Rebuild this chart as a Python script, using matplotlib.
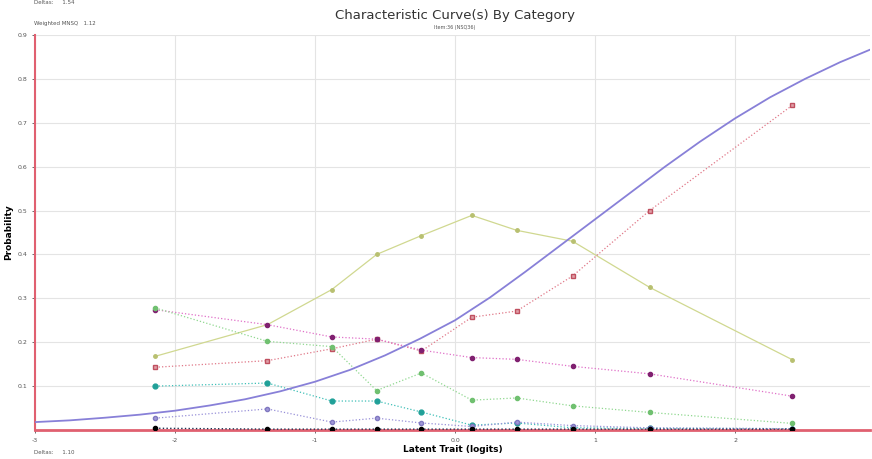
import numpy as np
import matplotlib.pyplot as plt

# observed category proportions at each measure group
x_obs = [-2.14, -1.34, -0.88, -0.56, -0.24, 0.12, 0.44, 0.84, 1.39, 2.41]
cat_yellow = [0.168, 0.24, 0.32, 0.40, 0.443, 0.489, 0.455, 0.43, 0.325, 0.16]
cat_pink = [0.143, 0.158, 0.185, 0.207, 0.18, 0.257, 0.271, 0.351, 0.50, 0.74]
cat_magenta = [0.274, 0.24, 0.212, 0.207, 0.182, 0.165, 0.161, 0.145, 0.128, 0.077]
cat_green = [0.278, 0.202, 0.19, 0.09, 0.13, 0.068, 0.073, 0.055, 0.04, 0.015]
cat_teal = [0.10, 0.107, 0.066, 0.066, 0.041, 0.011, 0.016, 0.005, 0.004, 0.003]
cat_lav = [0.027, 0.048, 0.018, 0.027, 0.016, 0.008, 0.018, 0.01, 0.005, 0.003]
cat_black = [0.004, 0.002, 0.002, 0.002, 0.002, 0.002, 0.002, 0.002, 0.002, 0.002]

# model curve
x_model = [-3, -2.75, -2.5, -2.25, -2, -1.75, -1.5, -1.25, -1, -0.75, -0.5, -0.25,
           0, 0.25, 0.5, 0.75, 1, 1.25, 1.5, 1.75, 2, 2.25, 2.5, 2.75, 2.96]
p_model = [0.018, 0.022, 0.028, 0.035, 0.044, 0.056, 0.07, 0.088, 0.11, 0.137, 0.17, 0.208,
           0.25, 0.302, 0.36, 0.42, 0.48, 0.54, 0.60, 0.657, 0.71, 0.758, 0.80, 0.838, 0.866]

x_ticks = [-3, -2, -1, 0, 1, 2]
x_ticklabels = ['-3', '-2', '-1', '0.0', '1', '2']
y_ticks = [0.1, 0.2, 0.3, 0.4, 0.5, 0.6, 0.7, 0.8, 0.9]

fig = plt.figure(figsize=(8.72, 4.59), dpi=100)
ax = fig.add_axes([35/872, 29/459, 835/872, 395/459])

ax.plot(x_model, p_model, color='#8880d8', lw=1.3, zorder=5)

ax.plot(x_obs, cat_yellow, color='#d0d890', lw=0.9, marker='o', ms=2.5, mfc='#b8c070', mec='#b8c070')
ax.plot(x_obs, cat_pink, color='#e07888', lw=0.9, ls=':', marker='s', ms=3.5, mfc='#e0a0a8', mec='#c05060')
ax.plot(x_obs, cat_magenta, color='#e070c8', lw=0.9, ls=':', marker='o', ms=3, mfc='#802070', mec='#802070')
ax.plot(x_obs, cat_green, color='#90d890', lw=0.9, ls=':', marker='o', ms=3, mfc='#70c070', mec='#70c070')
ax.plot(x_obs, cat_teal, color='#40c0b8', lw=0.9, ls=':', marker='o', ms=3.5, mfc='#20a098', mec='#20a098')
ax.plot(x_obs, cat_lav, color='#9890d8', lw=0.9, ls=':', marker='o', ms=3, mfc='#a098d8', mec='#8078c0')
ax.plot(x_obs, cat_black, color='#203050', lw=1.0, ls=':', marker='o', ms=3, mfc='black', mec='black', zorder=6)

ax.set_xlim(-3, 2.964)
ax.set_ylim(0, 0.9)
ax.set_xticks(x_ticks)
ax.set_xticklabels(x_ticklabels)
ax.set_yticks(y_ticks)
ax.set_yticklabels([f'{v:.1f}' for v in y_ticks])
ax.tick_params(labelsize=4.5, colors='#555555', length=2, width=0.6)
ax.grid(True, color='#e4e4e4', lw=0.8)
ax.set_axisbelow(True)

for s in ['top', 'right']:
    ax.spines[s].set_visible(False)
ax.spines['left'].set_color('#e06070')
ax.spines['left'].set_linewidth(1.5)
ax.spines['bottom'].set_color('#e06070')
ax.spines['bottom'].set_linewidth(2)

ax.set_xlabel('Latent Trait (logits)', fontsize=6.5, fontweight='bold', labelpad=2)
ax.set_ylabel('Probability', fontsize=6.5, fontweight='bold', labelpad=3)

fig.text(455/872, 1 - 15/459, 'Characteristic Curve(s) By Category', ha='center', va='center', fontsize=9.5, color='#333333')
fig.text(455/872, 1 - 27/459, 'Item:36 (NSQ36)', ha='center', va='center', fontsize=3.5, color='#555555')
fig.text(34/872, 1 - 2/459, 'Deltas:     1.54', ha='left', va='center', fontsize=4, color='#555555')
fig.text(34/872, 1 - 23/459, 'Weighted MNSQ   1.12', ha='left', va='center', fontsize=4, color='#555555')
fig.text(34/872, 1 - 452/459, 'Deltas:     1.10', ha='left', va='center', fontsize=4, color='#555555')

plt.savefig('out.png', dpi=100)
